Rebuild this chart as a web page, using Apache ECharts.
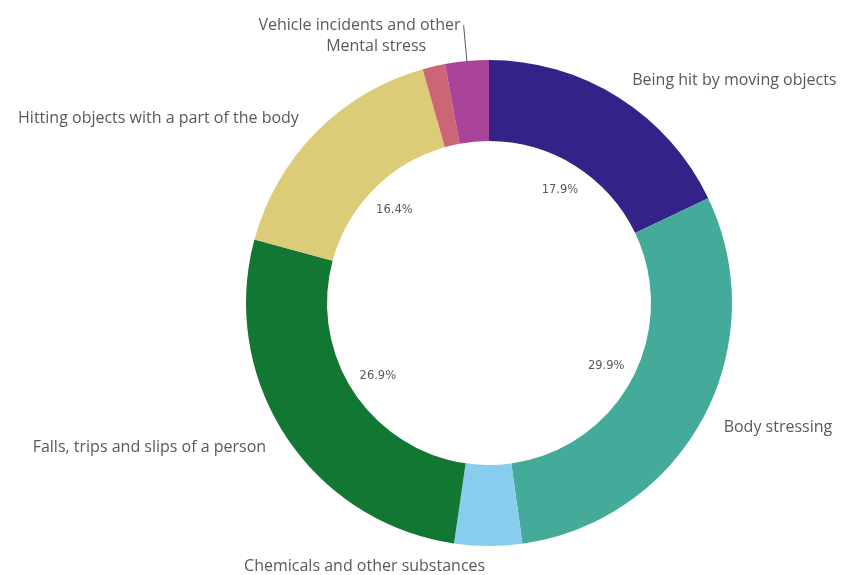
<!DOCTYPE html>
<html>
<head>
<meta charset="utf-8">
<script src="https://cdn.jsdelivr.net/npm/echarts@6/dist/echarts.min.js"></script>
<style>
html,body{margin:0;padding:0;background:#fff;}
#chart{width:846px;height:575px;}
</style>
</head>
<body>
<div id="chart"></div>
<script>
const categories = [
  'Being hit by moving objects',
  'Body stressing',
  'Chemicals and other substances',
  'Falls, trips and slips of a person',
  'Hitting objects with a part of the body',
  'Mental stress',
  'Vehicle incidents and other'
];
const values = [17.9, 29.9, 4.5, 26.9, 16.4, 1.5, 2.9];
const colors = ['#332288', '#44AA99', '#88CCEE', '#117733', '#DDCC77', '#CC6677', '#AA4499'];
const showLine = [false, false, false, false, false, false, true];
const lineLength = [20, 20, 20, 20, 20, 20, 36];
const labelGap = [3, 3, 3, 3, 3, 3, 3];

const chart = echarts.init(document.getElementById('chart'));
const center = [489, 303];

const ringData = categories.map((c, i) => ({
  name: c,
  value: values[i],
  itemStyle: { color: colors[i] },
  label: { distanceToLabelLine: labelGap[i] },
  labelLine: { show: showLine[i], length: lineLength[i], length2: 0 }
}));
const pctData = categories.map((c, i) => ({
  name: c,
  value: values[i],
  label: { show: values[i] > 10 }
}));

chart.setOption({
  backgroundColor: '#fff',
  animation: false,
  series: [
    {
      type: 'pie',
      center: center,
      radius: [162, 243],
      startAngle: 90,
      clockwise: true,
      avoidLabelOverlap: false,
      silent: true,
      itemStyle: { borderWidth: 0 },
      label: {
        show: true,
        position: 'outside',
        fontFamily: 'Open Sans',
        fontSize: 16,
        color: '#595959',
        formatter: '{b}'
      },
      labelLine: {
        length: 20,
        length2: 0,
        lineStyle: { color: '#595959', width: 1 }
      },
      emphasis: { disabled: true },
      data: ringData
    },
    {
      type: 'pie',
      center: center,
      radius: [100, 160],
      startAngle: 90,
      clockwise: true,
      silent: true,
      avoidLabelOverlap: false,
      itemStyle: { color: 'rgba(0,0,0,0)' },
      label: {
        show: true,
        position: 'inside',
        fontFamily: 'DejaVu Sans',
        fontSize: 11.5,
        color: '#595959',
        formatter: p => p.value.toFixed(1) + '%'
      },
      labelLine: { show: false },
      emphasis: { disabled: true },
      data: pctData
    }
  ]
});
</script>
</body>
</html>
